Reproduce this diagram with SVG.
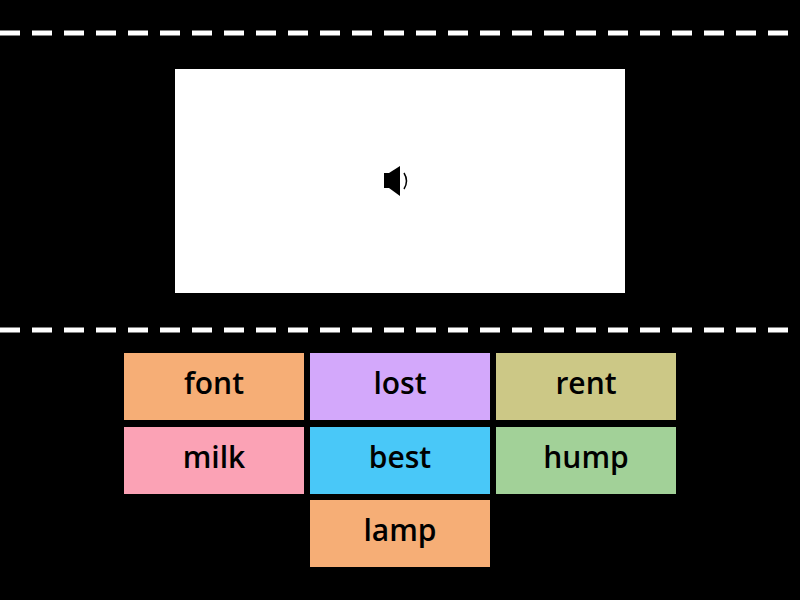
<svg xmlns="http://www.w3.org/2000/svg" width="800" height="600" viewBox="0 0 800 600">
<style>
.dash{stroke:#fff;stroke-width:5;stroke-dasharray:20 12;fill:none}
.t{font-family:"Open Sans","Noto Sans",sans-serif;font-size:30px;font-weight:600;fill:#000;text-anchor:middle;dominant-baseline:central}
</style>
<rect width="800" height="600" fill="#000"/>
<g id="connectors">
<line class="dash" x1="0" y1="33" x2="800" y2="33"/>
<line class="dash" x1="0" y1="330" x2="800" y2="330"/>
</g>
<g id="card">
<rect x="175" y="69" width="450" height="224" fill="#fff"/>
<rect x="384" y="173" width="5" height="15" fill="#000"/>
<polygon points="389,173 400,166 400,196 389,188" fill="#000"/>
<path d="M404,173 Q409,181 404,189" stroke="#000" stroke-width="1.5" fill="none"/>
</g>
<g id="font"><rect x="124" y="353" width="180" height="67" fill="#f6ae76"/><text class="t" x="214" y="382">font</text></g>
<g id="lost"><rect x="310" y="353" width="180" height="67" fill="#d3a8fb"/><text class="t" x="400" y="382">lost</text></g>
<g id="rent"><rect x="496" y="353" width="180" height="67" fill="#ccc886"/><text class="t" x="586" y="382">rent</text></g>
<g id="milk"><rect x="124" y="427" width="180" height="67" fill="#fba2b5"/><text class="t" x="214" y="456">milk</text></g>
<g id="best"><rect x="310" y="427" width="180" height="67" fill="#49c8f8"/><text class="t" x="400" y="456">best</text></g>
<g id="hump"><rect x="496" y="427" width="180" height="67" fill="#a2d198"/><text class="t" x="586" y="456">hump</text></g>
<g id="lamp"><rect x="310" y="500" width="180" height="67" fill="#f6ae76"/><text class="t" x="400" y="529">lamp</text></g>
</svg>
